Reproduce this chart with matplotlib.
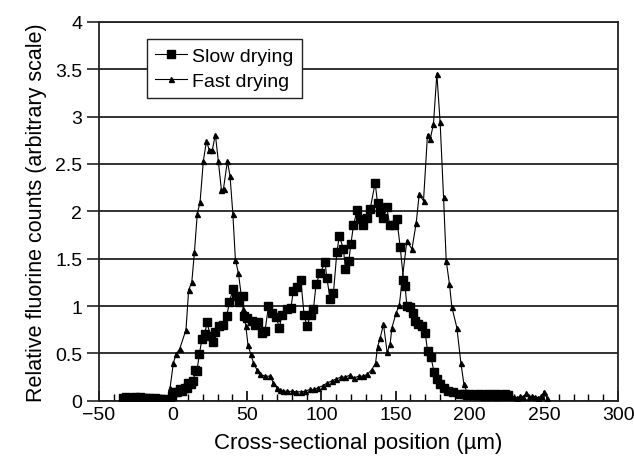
import matplotlib
matplotlib.use("Agg")
import matplotlib.pyplot as plt
from matplotlib.ticker import MultipleLocator

plt.rcParams['font.family'] = ['Liberation Sans', 'DejaVu Sans']

# ---- data ----
slow_x = [-34, -32, -30, -28, -26, -24, -22, -20, -18, -16, -14, -12, -10, -8, -6, -4, -2,
          -1, 1.3, 2.5, 4.7, 5.9, 8.1, 9.2, 10.3, 11.9, 13.7, 14.8, 16, 17.7, 19.4, 21.6, 22.7,
          25.4, 26.8, 28.3, 31.2, 33.9, 36.2, 38, 40.3, 42.5, 44.7, 47, 47.9, 50.1, 53.1,
          55.3, 57.5, 59.8, 62, 64.3, 66.6, 69.5, 71.7, 73.3, 76.7, 79.4, 81.1, 83.8, 86.1,
          88.3, 90.2, 92.9, 94.6, 96.4, 99.1, 102.5, 103.6, 105.9, 108.1, 110.4, 112.1, 114.8,
          116.2, 118.5, 119.8, 121.6, 123.9, 126.1, 128.3, 130.6, 132.8, 136.2, 137.8, 139.6,
          141.8, 144.1, 145.9, 148.6, 150.8, 153.1, 155.3, 156.4, 157.6, 159.8, 161.6, 163.2,
          165.4, 167.7, 169.9, 171.5, 173.8, 176, 177.8, 180, 182.3, 185.6, 189, 193.5,
          196, 198, 200, 202, 204, 206, 208, 210, 212, 214, 216, 218, 220, 222, 224, 226]
slow_y = [0.03, 0.04, 0.03, 0.03, 0.04, 0.03, 0.04, 0.03, 0.03, 0.03, 0.02, 0.03, 0.02, 0.02, 0.02, 0.01, 0.01,
          0.05, 0.09, 0.095, 0.12, 0.105, 0.14, 0.14, 0.19, 0.18, 0.21, 0.32, 0.31, 0.49, 0.65, 0.71, 0.83,
          0.68, 0.62, 0.73, 0.79, 0.80, 0.90, 1.04, 1.18, 1.11, 1.04, 1.11, 0.90, 0.87, 0.84,
          0.80, 0.83, 0.72, 0.74, 1.00, 0.93, 0.88, 0.77, 0.91, 0.97, 0.98, 1.16, 1.20, 1.27,
          0.91, 0.79, 0.91, 0.97, 1.23, 1.35, 1.46, 1.30, 1.07, 1.14, 1.57, 1.74, 1.60,
          1.39, 1.48, 1.65, 1.85, 2.01, 1.92, 1.86, 1.93, 2.02, 2.30, 2.09, 1.99,
          1.93, 2.04, 1.86, 1.86, 1.92, 1.62, 1.28, 1.21, 1.00, 0.99, 0.93, 0.84,
          0.81, 0.79, 0.72, 0.53, 0.46, 0.30, 0.23, 0.18, 0.14, 0.105, 0.09, 0.07,
          0.07, 0.06, 0.07, 0.06, 0.06, 0.07, 0.06, 0.06, 0.07, 0.06, 0.06, 0.07, 0.06, 0.06, 0.07, 0.06]

fast_x = [-33, -31, -29, -27, -25, -23, -21, -19, -17, -15, -13, -11, -9, -7, -5, -3,
          -2, 0.2, 2, 4.5, 8.7, 10.5, 12.6, 14.4, 16.3, 18.2, 20.4, 22.5, 24.3, 26.5, 28.5,
          30.5, 32.6, 34, 36.6, 38.4, 40.3, 42, 44, 45.9, 47.4, 49, 50.5, 52.4, 54.2, 56.4,
          58.7, 62, 65.4, 67.6, 69.9, 72, 74, 77, 80, 83, 86, 89, 92, 95, 98, 101, 104, 107,
          110, 113, 116, 119, 122, 125, 128, 131, 134, 136.5, 137.8, 139.6, 141.8, 144.3,
          146.3, 147.5, 150.4, 152.5, 154.6, 157.6, 161, 163.9, 165.9, 168.8, 171.5, 173.3,
          175.5, 177.8, 180, 182.3, 184.1, 186.3, 187.9, 191.3, 194, 196, 198,
          200, 202, 204, 206, 208, 210, 212, 214, 216, 218, 220, 222, 224, 226, 228, 230,
          232, 234, 236, 238, 240, 242, 244, 246, 248, 250, 252]
fast_y = [0.03, 0.04, 0.03, 0.03, 0.04, 0.03, 0.03, 0.04, 0.03, 0.03, 0.02, 0.03, 0.02, 0.02, 0.03, 0.04,
          0.14, 0.40, 0.49, 0.55, 0.75, 1.17, 1.25, 1.57, 1.97, 2.10, 2.53, 2.74, 2.65, 2.65, 2.81,
          2.53, 2.22, 2.24, 2.53, 2.37, 1.97, 1.49, 1.35, 1.12, 0.97, 0.79, 0.59, 0.49, 0.40, 0.33,
          0.28, 0.26, 0.26, 0.19, 0.14, 0.11, 0.105, 0.10, 0.10, 0.095, 0.095, 0.10, 0.12, 0.12, 0.14, 0.16, 0.19, 0.21,
          0.23, 0.25, 0.25, 0.27, 0.24, 0.26, 0.26, 0.28, 0.33, 0.40, 0.57, 0.66, 0.81, 0.51,
          0.60, 0.77, 0.93, 1.01, 1.30, 1.69, 1.60, 1.88, 2.18, 2.11, 2.81, 2.76,
          2.92, 3.45, 2.94, 2.15, 1.48, 1.23, 0.99, 0.77, 0.40, 0.18, 0.09,
          0.07, 0.06, 0.05, 0.05, 0.04, 0.05, 0.04, 0.05, 0.04, 0.04, 0.05, 0.04, 0.06, 0.04, 0.05, 0.04,
          0.03, 0.05, 0.04, 0.08, 0.04, 0.05, 0.04, 0.03, 0.05, 0.09, 0.03]

x_ticks = [-50, 0, 50, 100, 150, 200, 250, 300]
y_ticks = [0, 0.5, 1, 1.5, 2, 2.5, 3, 3.5, 4]
y_tick_labels = ['0', '0.5', '1', '1.5', '2', '2.5', '3', '3.5', '4']

fig = plt.figure(figsize=(6.34, 4.64), dpi=100)
ax = fig.add_axes([0.156, 0.134, 0.819, 0.817])

for yv in y_ticks:
    ax.axhline(yv, color='#222222', lw=1.3, zorder=0)

ax.plot(slow_x, slow_y, color='black', lw=0.8, marker='s', ms=6,
        markerfacecolor='black', markeredgecolor='black', label='Slow drying', zorder=3)
ax.plot(fast_x, fast_y, color='black', lw=0.8, marker='^', ms=3.6,
        markerfacecolor='black', markeredgecolor='black', label='Fast drying', zorder=4)

ax.set_xlim(-50, 300)
ax.set_ylim(0, 4)
ax.set_xticks(x_ticks)
ax.xaxis.set_minor_locator(MultipleLocator(10))
ax.set_yticks(y_ticks)
ax.set_yticklabels(y_tick_labels)
ax.tick_params(axis='x', which='major', direction='in', length=7, width=1.2, labelsize=14, pad=4)
ax.tick_params(axis='x', which='minor', direction='in', length=5, width=1.0)
ax.tick_params(axis='y', which='major', direction='out', length=9, width=1.2, labelsize=14, pad=3, color='#222222')

for s in ax.spines.values():
    s.set_color('#222222')
    s.set_linewidth(1.3)

ax.set_xlabel('Cross-sectional position (µm)', fontsize=16, labelpad=6)
ax.set_ylabel('Relative fluorine counts (arbitrary scale)', fontsize=15.5, labelpad=6)

leg = ax.legend(loc='upper left', bbox_to_anchor=(0.092, 0.955), fontsize=14,
                frameon=True, fancybox=False, framealpha=1, edgecolor='#222222',
                handlelength=1.6, handletextpad=0.3, borderpad=0.45, labelspacing=0.35,
                borderaxespad=0)
leg.get_frame().set_linewidth(1.0)

fig.savefig('out.png', dpi=100)
